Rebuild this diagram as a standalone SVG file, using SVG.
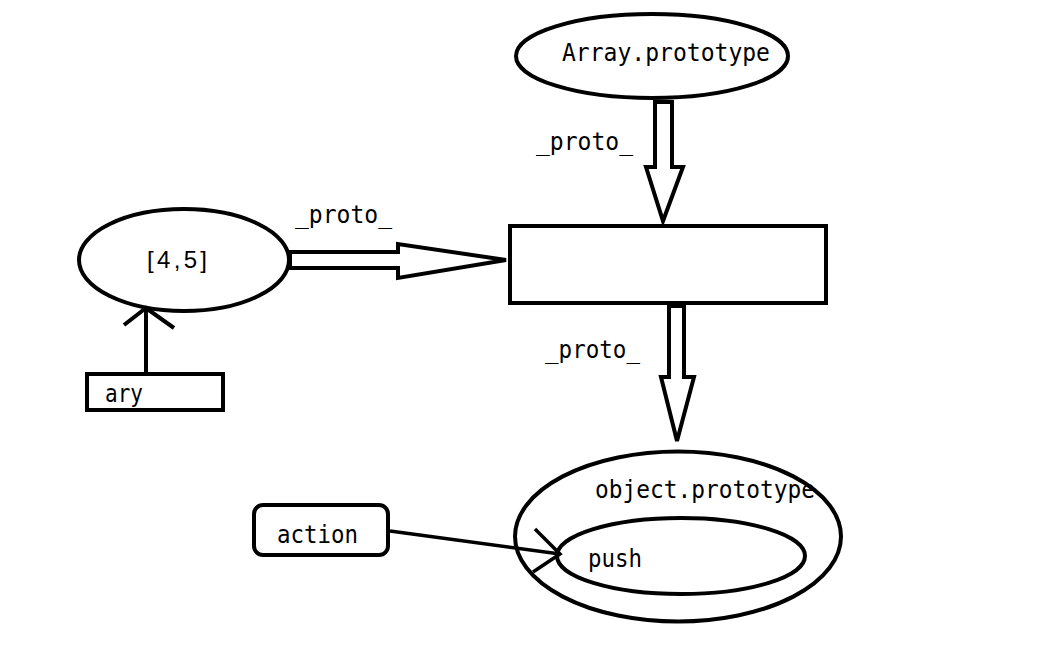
<svg xmlns="http://www.w3.org/2000/svg" width="1043" height="651" viewBox="0 0 1043 651">
<style>
.shape{fill:#fff;stroke:#000;stroke-width:4}
.blk{fill:#fff;stroke:#000;stroke-width:4;stroke-linejoin:miter}
.ln{fill:none;stroke:#000;stroke-width:4;stroke-linecap:butt}
.t{font-family:"DejaVu Sans Mono","Liberation Mono",monospace;font-size:24px;fill:#000}
.s{font-family:"Liberation Sans",Arial,sans-serif;font-size:24px;fill:#000}
</style>
<rect width="1043" height="651" fill="#fff"/>
<g id="array-prototype">
<ellipse class="shape" cx="652" cy="56" rx="136" ry="42"/>
<text class="t" x="562" y="61" textLength="208" lengthAdjust="spacingAndGlyphs">Array.prototype</text>
</g>
<g id="box">
<rect class="shape" x="510" y="226" width="316" height="77"/>
</g>
<g id="array-45">
<ellipse class="shape" cx="184" cy="260" rx="105" ry="51"/>
<text class="s" x="147" y="268" textLength="60" lengthAdjust="spacing">[4,5]</text>
</g>
<g id="ary">
<rect class="shape" x="87" y="374" width="136" height="36"/>
<text class="t" x="105" y="402" textLength="38" lengthAdjust="spacingAndGlyphs">ary</text>
</g>
<g id="object-prototype">
<ellipse class="shape" cx="678" cy="536.5" rx="163" ry="85"/>
<text class="t" x="595" y="498" textLength="220" lengthAdjust="spacingAndGlyphs">object.prototype</text>
</g>
<g id="push">
<ellipse cx="681" cy="556" rx="124" ry="38" fill="none" stroke="#000" stroke-width="4"/>
<text class="t" x="588" y="567" textLength="54" lengthAdjust="spacingAndGlyphs">push</text>
</g>
<g id="action">
<rect class="shape" x="254" y="505" width="134" height="50" rx="9"/>
<text class="t" x="277" y="543" textLength="81" lengthAdjust="spacingAndGlyphs">action</text>
</g>
<g id="connectors">
<polygon class="blk" points="655,102 672,102 672,167 683,167 663,221 646,167 655,167"/>
<polygon class="blk" points="290,252 398,252 398,244 506,260 398,278 398,268 290,268"/>
<polygon class="blk" points="669,306 684,306 684,377 694,377 677,441 661,377 669,377"/>
<line class="ln" x1="146" y1="372" x2="146" y2="308"/>
<polyline class="ln" points="124,325 146,308 174,328"/>
<line class="ln" x1="390" y1="531" x2="560" y2="554" style="stroke-width:3.5"/>
<polyline class="ln" points="535,529 560,554 533,572" style="stroke-width:3.5"/>
<text class="t" x="536" y="150" textLength="97" lengthAdjust="spacingAndGlyphs">_proto_</text>
<text class="t" x="295" y="223" textLength="97" lengthAdjust="spacingAndGlyphs">_proto_</text>
<text class="t" x="545" y="358" textLength="95" lengthAdjust="spacingAndGlyphs">_proto_</text>
</g>
</svg>
